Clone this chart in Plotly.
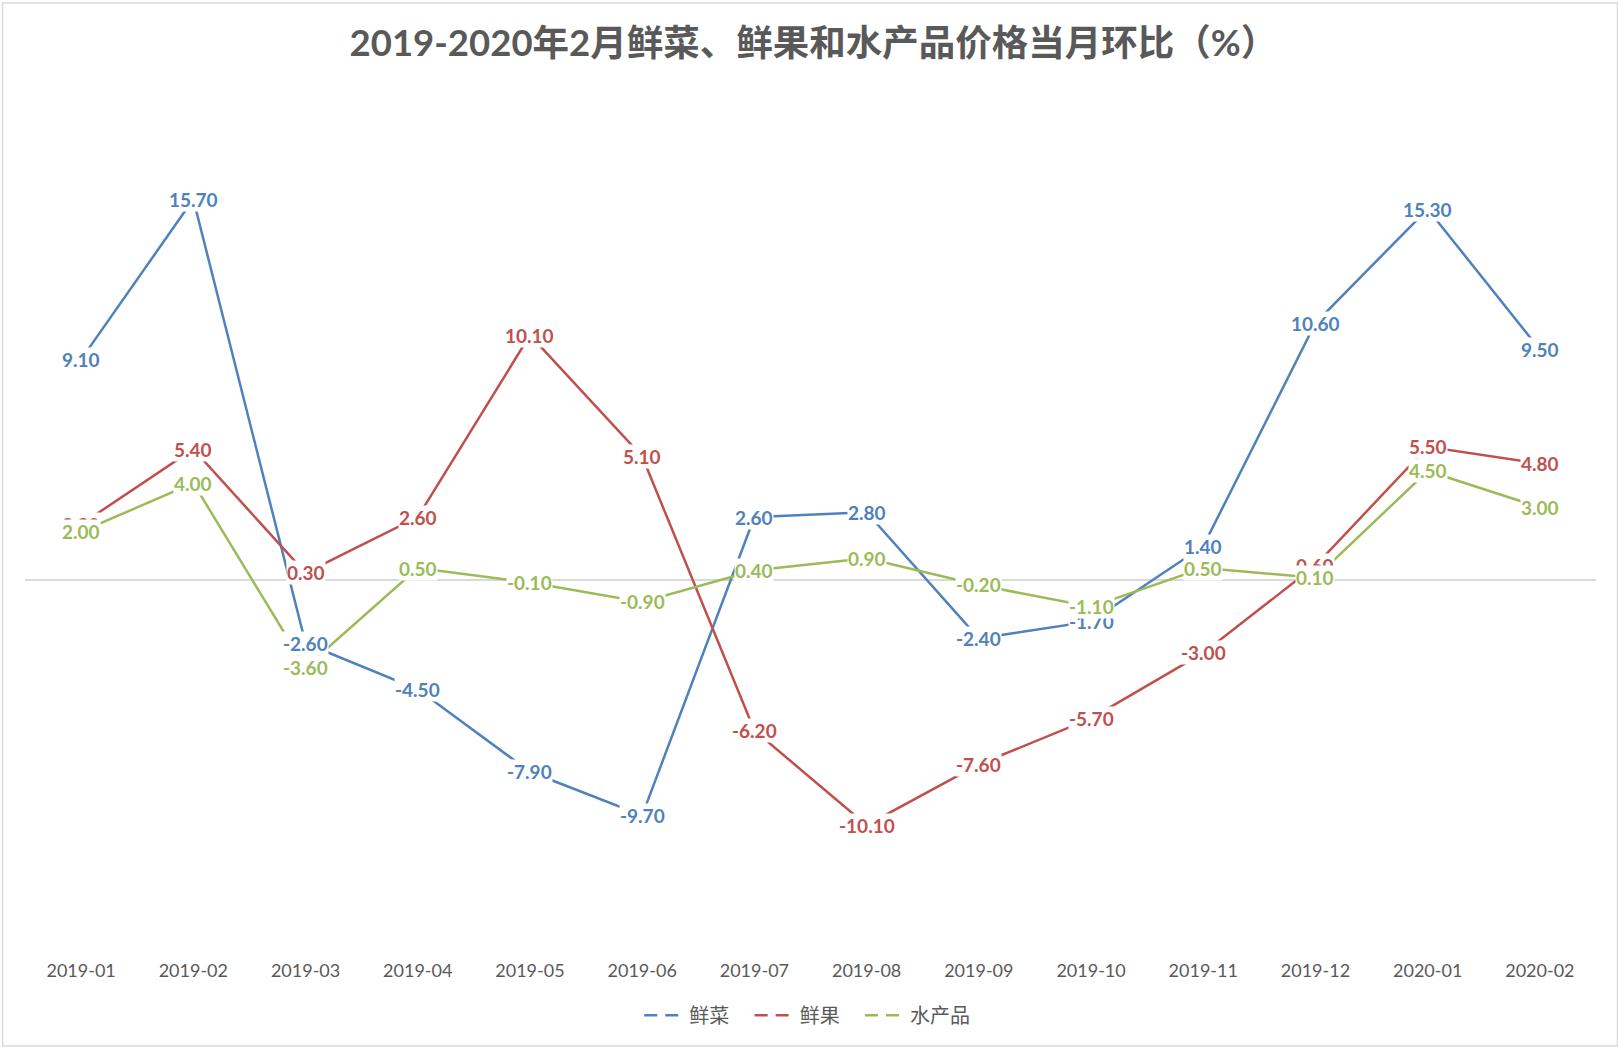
import plotly.graph_objects as go

months = ["2019-01", "2019-02", "2019-03", "2019-04", "2019-05", "2019-06", "2019-07",
          "2019-08", "2019-09", "2019-10", "2019-11", "2019-12", "2020-01", "2020-02"]
veg = [9.1, 15.7, -2.6, -4.5, -7.9, -9.7, 2.6, 2.8, -2.4, -1.7, 1.4, 10.6, 15.3, 9.5]
fruit = [2.3, 5.4, 0.3, 2.6, 10.1, 5.1, -6.2, -10.1, -7.6, -5.7, -3.0, 0.6, 5.5, 4.8]
aqua = [2.0, 4.0, -3.6, 0.5, -0.1, -0.9, 0.4, 0.9, -0.2, -1.1, 0.5, 0.1, 4.5, 3.0]

series = [("鲜菜", veg, "#4F81BD"), ("鲜果", fruit, "#C0504D"), ("水产品", aqua, "#9BBB59")]
title = "2019-2020年2月鲜菜、鲜果和水产品价格当月环比（%）"

FONT = "Lato, Noto Sans CJK SC, sans-serif"
PAD = "\u00a0\u00a0\u00a0"
fig = go.Figure()
annotations = []
for name, vals, color in series:
    fig.add_trace(go.Scatter(x=months, y=vals, mode="lines", name=name,
                             line=dict(color=color, width=2.5), showlegend=False))
    fig.add_trace(go.Scatter(x=[None], y=[None], mode="lines", name=name + PAD,
                             line=dict(color=color, width=2.5, dash="13px,8px")))
for name, vals, color in series:
    for m, v in zip(months, vals):
        annotations.append(dict(x=m, y=v, xref="x", yref="y", text=f"<b>{v:.2f}</b>",
                                showarrow=False, bgcolor="white", borderpad=0,
                                font=dict(family=FONT, size=19, color=color)))

fig.update_layout(
    width=1618, height=1047,
    margin=dict(l=25, r=22, t=95, b=103, autoexpand=False),
    paper_bgcolor="white", plot_bgcolor="white",
    title=dict(text="<b>" + title + "</b>", x=0.5027, xanchor="center", y=0.959, yanchor="middle",
               font=dict(family=FONT, size=36.5, color="#595959")),
    xaxis=dict(type="category", range=[-0.5, 13.5], automargin=False,
               showgrid=False, showline=False, zeroline=False,
               ticks="", ticklabelstandoff=14,
               tickfont=dict(family=FONT, size=18, color="#595959")),
    yaxis=dict(range=[-15, 20], automargin=False, showgrid=False, showticklabels=False,
               showline=False, zeroline=True, zerolinecolor="#d9d9d9", zerolinewidth=1.5),
    legend=dict(orientation="h", x=0.391, xanchor="left", y=-0.084, yanchor="middle",
                font=dict(family=FONT, size=20, color="#595959"), itemwidth=40,
                traceorder="normal"),
    annotations=annotations,
    shapes=[dict(type="rect", xref="paper", yref="paper",
                 x0=-0.0143, x1=1.0137, y0=-0.1201, y1=1.1083,
                 line=dict(color="#d9d9d9", width=1.5), layer="below")],
)
fig.write_html("out.html", config={"displayModeBar": False},
               post_script="document.body.style.margin='0';document.body.style.overflow='hidden';")
